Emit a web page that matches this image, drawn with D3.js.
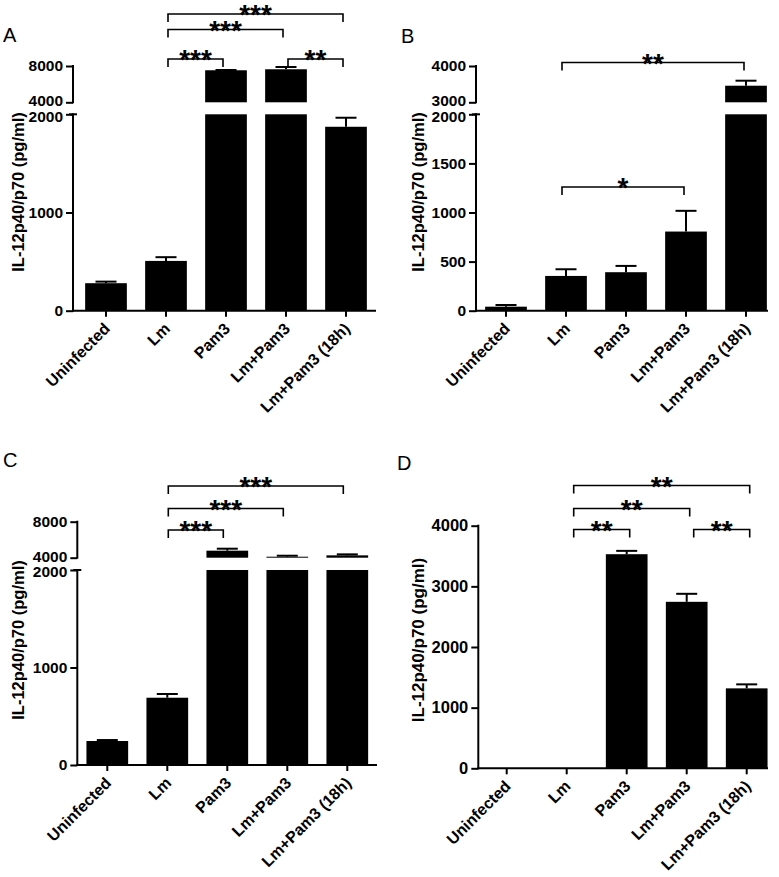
<!DOCTYPE html>
<html>
<head>
<meta charset="utf-8">
<script src="https://cdn.jsdelivr.net/npm/d3@7"></script>
<style>
  html, body { margin: 0; padding: 0; background: #fff; }
  svg { display: block; }
  text { font-family: "Liberation Sans", Arial, Helvetica, sans-serif; }
</style>
</head>
<body>
<svg id="chart" width="779" height="877"></svg>
<script>
// ---------- DATA ----------
const categories = ["Uninfected", "Lm", "Pam3", "Lm+Pam3", "Lm+Pam3 (18h)"];
const yLabel = "IL-12p40/p70 (pg/ml)";

// Panel A
const meanA = [280, 507, 7530, 7640, 1873];
const errA  = [296, 545, 7560, 7890, 1965];
const ticksA_low = [0, 1000, 2000];
const ticksA_up  = [4000, 8000];
const sigA = [
  {from: "Lm", to: "Lm+Pam3 (18h)", label: "***", level: 0},
  {from: "Lm", to: "Lm+Pam3",       label: "***", level: 1},
  {from: "Lm", to: "Pam3",          label: "***", level: 2},
  {from: "Lm+Pam3", to: "Lm+Pam3 (18h)", label: "**", level: 2}
];

// Panel B
const meanB = [41, 354, 392, 806, 3457];
const errB  = [58, 422, 456, 1017, 3595];
const ticksB_low = [0, 500, 1000, 1500, 2000];
const ticksB_up  = [3000, 4000];
const sigB = [
  {from: "Lm", to: "Lm+Pam3 (18h)", label: "**", level: 0},
  {from: "Lm", to: "Lm+Pam3",       label: "*",  level: 1}
];

// Panel C
const meanC = [246, 690, 4780, 4110, 4260];
const errC  = [256, 728, 5000, 4220, 4370];
const ticksC_low = [0, 1000, 2000];
const ticksC_up  = [4000, 8000];
const sigC = [
  {from: "Lm", to: "Lm+Pam3 (18h)", label: "***", level: 0},
  {from: "Lm", to: "Lm+Pam3",       label: "***", level: 1},
  {from: "Lm", to: "Pam3",          label: "***", level: 2}
];

// Panel D
const meanD = [0, 0, 3530, 2745, 1318];
const errD  = [0, 0, 3585, 2877, 1384];
const ticksD = [0, 1000, 2000, 3000, 4000];
const sigD = [
  {from: "Lm", to: "Lm+Pam3 (18h)", label: "**", level: 0},
  {from: "Lm", to: "Lm+Pam3",       label: "**", level: 1},
  {from: "Lm", to: "Pam3",          label: "**", level: 2},
  {from: "Lm+Pam3", to: "Lm+Pam3 (18h)", label: "**", level: 2}
];

// ---------- DRAWING ----------
const svg = d3.select("#chart");
const FONT = "'Liberation Sans', Arial, Helvetica, sans-serif";

function drawPanel(cfg) {
  const g = svg.append("g");
  const x = d3.scaleBand().domain(categories)
    .range([cfg.bandStart, cfg.bandStart + 300])
    .paddingInner(0.305).paddingOuter(0.1525);
  const cx = c => x(c) + x.bandwidth() / 2;

  const segs = cfg.segments.map(s => ({
    ...s,
    scale: d3.scaleLinear().domain(s.domain).range(s.range)
  }));

  // bars
  cfg.mean.forEach((v, i) => {
    const c = categories[i];
    segs.forEach(s => {
      const lo = s.domain[0], hi = s.domain[1];
      if (v <= lo) return;
      const top = Math.min(v, hi);
      g.append("rect")
        .attr("x", x(c)).attr("width", x.bandwidth())
        .attr("y", s.scale(top))
        .attr("height", s.scale(lo) - s.scale(top))
        .attr("fill", "#000");
    });
    const e = cfg.err[i];
    if (e > v) {
      const s = segs.find(s => v >= s.domain[0] && v <= s.domain[1]) || segs[segs.length - 1];
      const yv = s.scale(v), ye = s.scale(e);
      g.append("line").attr("x1", cx(c)).attr("x2", cx(c))
        .attr("y1", yv).attr("y2", ye)
        .attr("stroke", "#000").attr("stroke-width", 2);
      g.append("line").attr("x1", cx(c) - 10.5).attr("x2", cx(c) + 10.5)
        .attr("y1", ye).attr("y2", ye)
        .attr("stroke", "#000").attr("stroke-width", 2);
    }
  });

  // y axes per segment
  segs.forEach((s, si) => {
    const ax = d3.axisLeft(s.scale).tickValues(s.ticks)
      .tickFormat(d3.format("d"))
      .tickSize(7).tickSizeOuter(0).tickPadding(3);
    const a = g.append("g").attr("transform", `translate(${cfg.axisX},0)`).call(ax);
    a.selectAll(".tick line").attr("stroke-width", 2).attr("stroke", "#000");
    a.selectAll(".tick text")
      .attr("font-family", FONT).attr("font-weight", "bold")
      .attr("font-size", cfg.tickFont).attr("fill", "#000");
    if (segs.length > 1) {
      a.selectAll(".tick text").filter(d => si === 0 && d === s.domain[1]).attr("dy", "0.45em");
      a.selectAll(".tick text").filter(d => si === 1 && d === s.domain[0]).attr("dy", "0.22em");
    }
    a.select(".domain").remove();
    const yTop = s.scale(s.domain[1]), yBot = s.scale(s.domain[0]);
    a.append("line").attr("x1", 0).attr("x2", 0).attr("y1", yTop - 1).attr("y2", yBot + 1)
      .attr("stroke", "#000").attr("stroke-width", 2);
    if (segs.length > 1 && si === 0) {
      a.append("line").attr("x1", -4).attr("x2", 4).attr("y1", yTop).attr("y2", yTop)
        .attr("stroke", "#000").attr("stroke-width", 2);
    }
  });

  // x axis
  const base = segs[0].scale(0);
  g.append("line").attr("x1", cfg.axisX - 1).attr("x2", cfg.xAxisEnd)
    .attr("y1", base).attr("y2", base)
    .attr("stroke", "#000").attr("stroke-width", 2);
  categories.forEach(c => {
    g.append("line").attr("x1", cx(c)).attr("x2", cx(c))
      .attr("y1", base).attr("y2", base + 6)
      .attr("stroke", "#000").attr("stroke-width", 2);
    g.append("text")
      .attr("transform", `translate(${cx(c) + 1},${base + 15}) rotate(-45)`)
      .attr("text-anchor", "end").attr("dy", "0.35em")
      .attr("font-weight", "bold").attr("font-size", 16)
      .text(c);
  });

  // y label
  g.append("text")
    .attr("transform", `translate(${cfg.yLabelX},${cfg.yLabelY}) rotate(-90)`)
    .attr("text-anchor", "middle").attr("dy", "0.35em")
    .attr("font-weight", "bold").attr("font-size", cfg.yLabelFont)
    .text(yLabel);

  // panel letter
  g.append("text").attr("x", cfg.letterX).attr("y", cfg.letterY)
    .attr("font-size", 20).text(cfg.letter);

  // significance brackets
  cfg.sig.forEach(b => {
    const yb = cfg.bracketY[b.level];
    const x1 = cx(b.from) + cfg.bracketInset[0], x2 = cx(b.to) + cfg.bracketInset[1];
    g.append("path")
      .attr("d", `M${x1},${yb + 8}V${yb}H${x2}V${yb + 8}`)
      .attr("fill", "none").attr("stroke", "#000").attr("stroke-width", 1.6);
    g.append("text").attr("x", (x1 + x2) / 2).attr("y", yb + 10)
      .attr("text-anchor", "middle").attr("font-weight", "bold")
      .attr("font-size", 28).attr("letter-spacing", 0)
      .text(b.label);
  });
}

drawPanel({
  letter: "A", letterX: 3, letterY: 42,
  bandStart: 76, axisX: 73, xAxisEnd: 376,
  mean: meanA, err: errA, sig: sigA,
  segments: [
    {domain: [0, 2000], range: [310.7, 114.3], ticks: ticksA_low},
    {domain: [4000, 8000], range: [102.3, 66], ticks: ticksA_up}
  ],
  tickFont: 15.5, yLabelX: 18, yLabelY: 192, yLabelFont: 16.5,
  bracketY: [14, 29.5, 59], bracketInset: [2, -3]
});

drawPanel({
  letter: "B", letterX: 401, letterY: 43,
  bandStart: 476, axisX: 476, xAxisEnd: 768,
  mean: meanB, err: errB, sig: sigB,
  segments: [
    {domain: [0, 2000], range: [310.7, 114.3], ticks: ticksB_low},
    {domain: [3000, 4000], range: [102.3, 66], ticks: ticksB_up}
  ],
  tickFont: 15.5, yLabelX: 418, yLabelY: 192, yLabelFont: 16.5,
  bracketY: [62.5, 187], bracketInset: [-4, -2]
});

drawPanel({
  letter: "C", letterX: 3, letterY: 467,
  bandStart: 77.3, axisX: 77.3, xAxisEnd: 377,
  mean: meanC, err: errC, sig: sigC,
  segments: [
    {domain: [0, 2000], range: [765, 570], ticks: ticksC_low},
    {domain: [4000, 8000], range: [557.7, 521.7], ticks: ticksC_up}
  ],
  tickFont: 15.5, yLabelX: 18, yLabelY: 640, yLabelFont: 16.5,
  bracketY: [486, 508.5, 530], bracketInset: [1, -4]
});

drawPanel({
  letter: "D", letterX: 397, letterY: 470,
  bandStart: 476.7, axisX: 478.3, xAxisEnd: 768,
  mean: meanD, err: errD, sig: sigD,
  segments: [
    {domain: [0, 4000], range: [768.3, 525.7], ticks: ticksD}
  ],
  tickFont: 16.5, yLabelX: 418, yLabelY: 640, yLabelFont: 17,
  bracketY: [485.5, 508.5, 529.5], bracketInset: [7, 3]
});
</script>
</body>
</html>
